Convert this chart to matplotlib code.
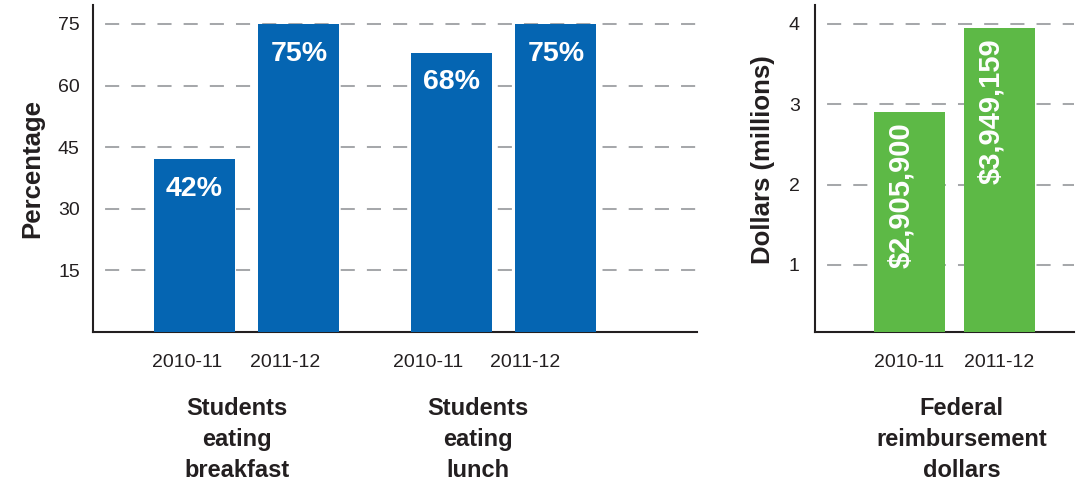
import matplotlib
matplotlib.use("Agg")
import matplotlib.pyplot as plt
from matplotlib import font_manager

# data
years = ["2010-11", "2011-12"]
breakfast_pct = [42, 75]
lunch_pct = [68, 75]
reimbursement = [2905900, 3949159]   # dollars

pct_ticks = [15, 30, 45, 60, 75]
dollar_ticks = [1, 2, 3, 4]

group_titles = ["Students\neating\nbreakfast", "Students\neating\nlunch"]
money_title = "Federal\nreimbursement\ndollars"

blue = "#0565b2"
green = "#5db946"
grid_grey = "#a6a8ab"
ink = "#231f20"

names = {f.name for f in font_manager.fontManager.ttflist}
narrow = "Liberation Sans Narrow" if "Liberation Sans Narrow" in names else "Liberation Sans"
plt.rcParams["font.family"] = ["Liberation Sans", "DejaVu Sans"]

W, H = 1079, 488
fig = plt.figure(figsize=(W / 100, H / 100), dpi=100)
ax1 = fig.add_axes([93 / W, 1 - 332 / H, 604 / W, 327 / H])
ax2 = fig.add_axes([815 / W, 1 - 332 / H, 259 / W, 327 / H])

grid_style = (7, (7, 6))


def style_axes(ax):
    for side in ["top", "right"]:
        ax.spines[side].set_visible(False)
    for side in ["left", "bottom"]:
        ax.spines[side].set_color(ink)
        ax.spines[side].set_linewidth(1.5)
    ax.set_axisbelow(True)
    ax.yaxis.grid(True, color=grid_grey, linewidth=1.45, linestyle=grid_style)
    ax.tick_params(axis="both", length=0, labelcolor=ink, labelsize=14)
    ax.tick_params(axis="x", pad=15.5)


# ---- left: percentages ----
bar_x = [0, 1, 2.46, 3.46]
pct = breakfast_pct + lunch_pct
ax1.bar(bar_x, pct, width=0.775, color=blue, zorder=3)
for x, v in zip(bar_x, pct):
    ax1.annotate(f"{v}%", (x, v), xytext=(0, -12), textcoords="offset points",
                 ha="center", va="top", color="white", fontsize=20.5,
                 fontweight="bold", zorder=4)

ax1.set_xlim(-0.97, 4.81)
ax1.set_ylim(0, 79.6)
ax1.set_yticks(pct_ticks)
ax1.set_xticks([-0.07, 0.87, 2.24, 3.17])
ax1.set_xticklabels(years * 2)
style_axes(ax1)
ax1.tick_params(axis="y", pad=9.5)
ax1.set_ylabel("Percentage", fontsize=18.5, fontweight="bold", color=ink, labelpad=10)

for x, t in zip([0.41, 2.71], group_titles):
    ax1.text(x, -0.199, t, transform=ax1.get_xaxis_transform(), ha="center",
             va="top", fontsize=17, fontweight="bold", color=ink, linespacing=1.45)

# ---- right: federal dollars ----
money_x = [0, 1]
millions = [d / 1e6 for d in reimbursement]
ax2.bar(money_x, millions, width=0.79, color=green, zorder=3)
for x, m, d in zip(money_x, millions, reimbursement):
    ax2.annotate(f"${d:,}", (x, m), xytext=(0, -7.5), textcoords="offset points",
                 rotation=90, rotation_mode="anchor", ha="right", va="baseline",
                 color="white", fontsize=23 if narrow != "Liberation Sans" else 21,
                 fontweight="bold", family=[narrow, "DejaVu Sans"], zorder=4)

ax2.set_xlim(-1.05, 1.83)
ax2.set_ylim(0.166, 4.236)
ax2.set_yticks(dollar_ticks)
ax2.set_xticks(money_x)
ax2.set_xticklabels(years)
style_axes(ax2)
ax2.tick_params(axis="y", pad=11)
ax2.set_ylabel("Dollars (millions)", fontsize=18.5, fontweight="bold", color=ink)
ax2.yaxis.set_label_coords(-0.155, 0.526)
ax2.text(0.58, -0.199, money_title, transform=ax2.get_xaxis_transform(), ha="center",
         va="top", fontsize=17, fontweight="bold", color=ink, linespacing=1.45)

fig.savefig("out.png", dpi=100, facecolor="white")
